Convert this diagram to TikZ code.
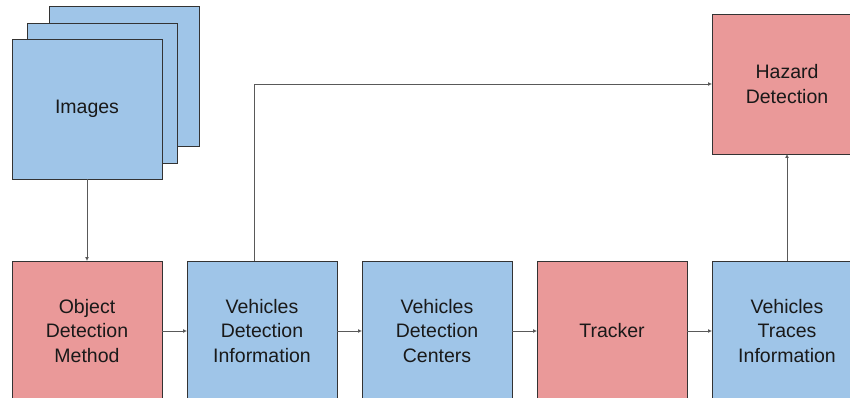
\documentclass[tikz,border=0pt]{standalone}
\usepackage{fontspec}
\setmainfont{Liberation Sans}
\usetikzlibrary{positioning, arrows.meta}
\definecolor{boxblue}{HTML}{9FC5E8}
\definecolor{boxred}{HTML}{EA9999}

\begin{document}
\begin{tikzpicture}[
  x=1pt, y=1pt,
  node distance=25pt,
  block/.style={rectangle, draw=black!80, line width=0.8pt, minimum width=150pt, minimum height=140pt, inner sep=0pt, outer sep=0pt, align=center, font=\fontsize{19.5}{24.5}\selectfont, text=black!90},
  blue block/.style={block, fill=boxblue},
  red block/.style={block, fill=boxred},
  link/.style={draw=black!65, line width=0.8pt, -{Latex[length=4pt, width=4pt]}}]

  \useasboundingbox (0,0) rectangle (850,-398);
  \clip (0,0) rectangle (850,-398);

  \node[blue block] (img3) at (124.5,-76) {};
  \node[blue block] (img2) at (102.5,-93) {};
  \node[blue block] (img1) at (87,-109) {Images};

  \node[red block] (odm) at (87,-331) {Object\\Detection\\Method};
  \node[blue block, right=of odm] (vdi) {Vehicles\\Detection\\Information};
  \node[blue block, right=of vdi] (vdc) {Vehicles\\Detection\\Centers};
  \node[red block, right=of vdc] (trk) {Tracker};
  \node[blue block, right=of trk] (vti) {Vehicles\\Traces\\Information};
  \node[red block] (hzd) at (vti |- 0,-84) {Hazard\\Detection};

  \draw[link] (img1) -- (odm);
  \draw[link] (odm) -- (vdi);
  \draw[link] (vdi) -- (vdc);
  \draw[link] (vdc) -- (trk);
  \draw[link] (trk) -- (vti);
  \draw[link] ([xshift=-8pt]vdi.north) |- (hzd);
  \draw[link] (vti) -- (hzd);
\end{tikzpicture}
\end{document}
